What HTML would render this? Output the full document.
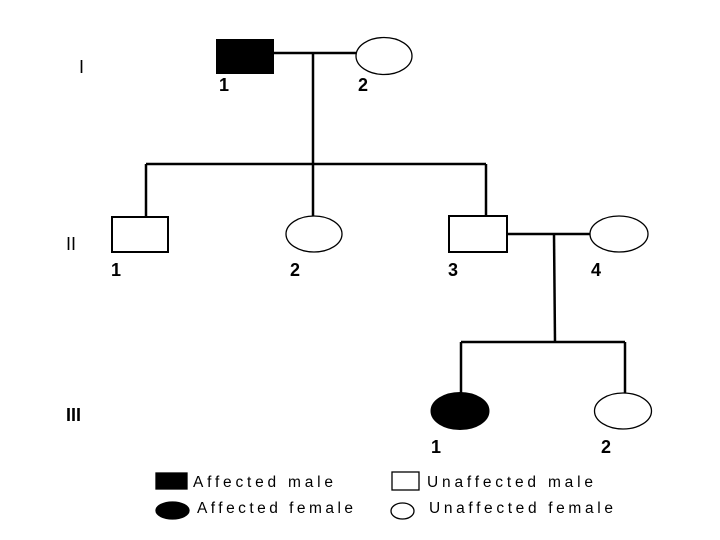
<!DOCTYPE html>
<html><head><meta charset="utf-8"><style>
html,body{margin:0;padding:0;background:#fff;overflow:hidden;}
svg{display:block;}
text{font-family:"Liberation Sans",Arial,sans-serif;fill:#000;}
</style></head><body>
<svg width="720" height="540" viewBox="0 0 720 540" xmlns="http://www.w3.org/2000/svg">
<g stroke="#000" fill="none" stroke-width="2.5">
<line x1="273" y1="53" x2="356" y2="53"/>
<line x1="313" y1="53" x2="313" y2="216"/>
<line x1="146" y1="164" x2="486" y2="164"/>
<line x1="146" y1="164" x2="146" y2="217"/>
<line x1="486" y1="164" x2="486" y2="216"/>
<line x1="507" y1="234" x2="590" y2="234"/>
<line x1="554" y1="234" x2="555" y2="342"/>
<line x1="461" y1="342" x2="625" y2="342"/>
<line x1="461" y1="342" x2="461" y2="393"/>
<line x1="625" y1="342" x2="625" y2="393"/>
</g>
<g stroke="#000" stroke-width="2">
<rect x="217" y="40" width="56" height="33" fill="#000"/>
<ellipse cx="384" cy="56" rx="28" ry="18.5" fill="#fff" stroke-width="1.3"/>
<rect x="112" y="217" width="56" height="35" fill="#fff"/>
<ellipse cx="314" cy="234" rx="28" ry="18" fill="#fff" stroke-width="1.3"/>
<rect x="449" y="216" width="58" height="36" fill="#fff"/>
<ellipse cx="619" cy="234" rx="29" ry="18" fill="#fff" stroke-width="1.3"/>
<ellipse cx="460" cy="411" rx="28.5" ry="18" fill="#000"/>
<ellipse cx="623" cy="411" rx="28.5" ry="18" fill="#fff" stroke-width="1.3"/>
</g>
<g font-size="18">
<text x="79" y="73">I</text>
<text x="66" y="250">II</text>
<text x="66" y="421" font-weight="bold">III</text>
</g>
<g font-size="18" font-weight="bold">
<text x="219" y="91">1</text>
<text x="358" y="91">2</text>
<text x="111" y="276">1</text>
<text x="290" y="276">2</text>
<text x="448" y="276">3</text>
<text x="591" y="276">4</text>
<text x="431" y="453">1</text>
<text x="601" y="453">2</text>
</g>
<g stroke="#000" stroke-width="1.3">
<rect x="156" y="473" width="31" height="16" fill="#000"/>
<rect x="392" y="472" width="27" height="18" fill="#fff"/>
<ellipse cx="172.5" cy="510.5" rx="16.5" ry="8.5" fill="#000"/>
<ellipse cx="402.5" cy="511" rx="11.5" ry="8" fill="#fff"/>
</g>
<g font-size="15.5" fill="#222">
<text x="193" y="487" textLength="140">Affected male</text>
<text x="427" y="487" textLength="166">Unaffected male</text>
<text x="197" y="513" textLength="156">Affected female</text>
<text x="429" y="513" textLength="184">Unaffected female</text>
</g>
</svg>
</body></html>
